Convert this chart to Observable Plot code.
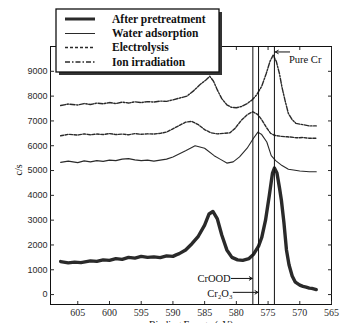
<!DOCTYPE html>
<html>
<head>
<meta charset="utf-8">
<script src="https://cdn.jsdelivr.net/npm/d3@7"></script>
<script src="https://cdn.jsdelivr.net/npm/@observablehq/plot@0.6"></script>
<style>
  html, body { margin: 0; padding: 0; background: #fff; }
  #chart { width: 346px; height: 323px; overflow: hidden; }
</style>
</head>
<body>
<div id="chart"></div>
<script>
// ---- data ----
const seriesNames = ["After pretreatment", "Water adsorption", "Electrolysis", "Ion irradiation"];

const pretreatE = [607.7,606.5,605.5,604.5,603,602,601,600,599,598,597,596,595,594,593,592,591,590,589.5,589,588,587,586,585,584.3,583.7,583,582.3,581.5,580.7,579.8,579,578,577.3,576.5,576,575.4,574.8,574.3,574,573.6,573.2,572.9,572.5,572.1,571.7,571.2,570.7,570,569.5,569,568.5,568.1,567.4];
const pretreatV = [1330,1280,1310,1290,1360,1340,1400,1380,1450,1420,1500,1470,1540,1500,1520,1490,1560,1540,1600,1650,1800,2050,2350,2800,3250,3350,3050,2400,1800,1500,1400,1380,1450,1620,1950,2300,3000,4000,4900,5100,4900,4300,3800,2900,1800,1200,750,500,380,330,300,260,250,200];

const waterE = [607.7,606.5,605,604,603,602,601,600,599,598,597,596,595,594,593,592,591,590,588,586.5,585,583.5,582.5,581.5,580.5,579.5,578.3,577.3,576.6,576,575.2,574.5,573.8,572.8,571.8,571,570,569,568.5,567.4];
const waterV = [5330,5380,5320,5390,5350,5400,5370,5420,5400,5460,5480,5430,5400,5420,5380,5420,5460,5550,5800,6000,5900,5600,5450,5300,5350,5550,5900,6300,6550,6450,6150,5600,5400,5200,5050,5020,4980,4960,4950,4950];

const electroE = [607.7,606.5,605,604,603,602,601,600,599,598,597,596,595,594,593,592,591,589.5,588,587,586,585,584,583,582,581,580.2,579.3,578.3,577.4,576.6,576,575.3,574.6,574,573,572,571.5,570.5,569.5,568.5,567.4];
const electroV = [6400,6460,6430,6480,6440,6470,6450,6490,6450,6470,6440,6490,6460,6480,6470,6500,6550,6750,6950,6980,6850,6650,6520,6480,6500,6520,6700,7000,7250,7370,7250,7050,6750,6500,6420,6380,6360,6350,6320,6330,6300,6300];

const ionE = [607.7,606.5,605,604,603,602,601,600,599,598,597,596,595,594,593,592,591,590,588.5,587.8,586.8,585.8,584.8,584.2,583.6,583,582.3,581.5,580.8,580,579.2,578.3,577.5,576.8,576,575.3,574.7,574.2,573.7,573.2,572.8,572.3,571.8,571.2,570.6,569.5,568.5,567.4];
const ionV = [7620,7680,7640,7700,7660,7720,7690,7740,7700,7760,7720,7770,7740,7780,7760,7800,7790,7850,7950,8000,8200,8450,8650,8800,8600,8250,7900,7650,7550,7530,7580,7700,7850,8050,8400,8900,9400,9650,9400,8900,8350,7800,7300,7050,6900,6850,6800,6800];

const refLines = [577.4, 576.5, 574.0];
const refLabels = ["CrOOD", "Cr₂O₃", "Pure Cr"];
const xTicks = [605, 600, 595, 590, 585, 580, 575, 570, 565];
const yTicks = [0, 1000, 2000, 3000, 4000, 5000, 6000, 7000, 8000, 9000];
const xLabel = "Binding Energy (eV)";
const yLabel = "c/s";

// ---- build tables ----
const mk = (E, V) => E.map((e, i) => ({e, v: V[i]}));
const pretreat = mk(pretreatE, pretreatV);
const water = mk(waterE, waterV);
const electro = mk(electroE, electroV);
const ion = mk(ionE, ionV);

// annotation anchors (data coordinates)
const pureCr = [{label: refLabels[2], x: 571.7, y: 9460, ax1: 571.6, ay: 9780, ax2: 573.85}];
const left = [
  {label: refLabels[0], x: 580.9, y: 650, ax1: 580.8, ay: 650, ax2: 577.5},
  {label: refLabels[1], x: 580.6, y: 40, ax1: 580.5, ay: 90, ax2: 576.6}
];

const serif = "'Liberation Serif', 'Times New Roman', serif";
const sans = "'Liberation Sans', Arial, sans-serif";
const ink = "#2a2a2a";

const plot = Plot.plot({
  width: 346,
  height: 323,
  marginLeft: 50,
  marginRight: 15,
  marginTop: 46,
  marginBottom: 19,
  style: {background: "#fff", color: ink, overflow: "visible"},
  x: {domain: [609.3, 565], ticks: xTicks},
  y: {domain: [-400, 10000], ticks: yTicks},
  marks: [
    Plot.line(pretreat, {x: "e", y: "v", stroke: ink, strokeWidth: 3.4, strokeLinejoin: "round"}),
    Plot.line(water, {x: "e", y: "v", stroke: ink, strokeWidth: 1.1}),
    Plot.line(electro, {x: "e", y: "v", stroke: ink, strokeWidth: 1.4, strokeDasharray: "3,1.5"}),
    Plot.line(ion, {x: "e", y: "v", stroke: ink, strokeWidth: 1.4, strokeDasharray: "5,1.5,1.5,1.5"}),
    Plot.ruleX(refLines, {stroke: "#111", strokeWidth: 1}),
    Plot.frame({stroke: "#111", strokeWidth: 1}),
    Plot.axisY({ticks: yTicks, tickSize: -4, tickPadding: 7, tickFormat: d3.format("d"), label: null, fontFamily: sans, fontSize: 9}),
    Plot.axisY({anchor: "right", ticks: yTicks, tickSize: -4, tickFormat: () => "", label: null}),
    Plot.axisX({ticks: xTicks, tickSize: -3, tickPadding: 7, label: null, fontFamily: serif, fontSize: 10}),
    Plot.axisX({anchor: "top", ticks: xTicks, tickSize: -3, tickFormat: () => "", label: null}),
    Plot.arrow(pureCr, {x1: "ax1", y1: "ay", x2: "ax2", y2: "ay", stroke: "#111", strokeWidth: 1, headLength: 5}),
    Plot.arrow(left, {x1: "ax1", y1: "ay", x2: "ax2", y2: "ay", stroke: "#111", strokeWidth: 1, headLength: 5}),
    Plot.text(pureCr, {x: "x", y: "y", text: "label", textAnchor: "start", fontFamily: serif, fontSize: 10.5, fill: "#111"}),
    Plot.text(left, {x: "x", y: "y", text: "label", textAnchor: "end", fontFamily: serif, fontSize: 10.5, fill: "#111"}),
    Plot.text([yLabel], {frameAnchor: "left", dx: -32, rotate: -90, fontFamily: serif, fontSize: 10, fill: "#111"}),
    Plot.text([xLabel], {frameAnchor: "bottom", dy: 16, lineAnchor: "top", fontFamily: serif, fontSize: 10, fill: "#111"})
  ]
});

// ---- legend box (drawn into the same SVG, top-left, overlapping the frame) ----
const svg = d3.select(plot);
const lg = svg.append("g").attr("class", "legend").attr("text-anchor", "start");
const bx = 56, by = 9, bw = 163, bh = 63;
lg.append("rect").attr("x", bx + 3).attr("y", by + 3).attr("width", bw).attr("height", bh).attr("fill", "#333");
lg.append("rect").attr("x", bx).attr("y", by).attr("width", bw).attr("height", bh).attr("fill", "#fff").attr("stroke", "#111").attr("stroke-width", 1.3);
const styles = [
  {w: 3, d: null},
  {w: 1, d: null},
  {w: 1.4, d: "3,2"},
  {w: 1.4, d: "5,2,1.5,2"}
];
const rowsY = [19, 33.5, 47.5, 62];
seriesNames.forEach((name, i) => {
  const l = lg.append("line").attr("x1", 65).attr("x2", 95).attr("y1", rowsY[i]).attr("y2", rowsY[i])
    .attr("stroke", ink).attr("stroke-width", styles[i].w);
  if (styles[i].d) l.attr("stroke-dasharray", styles[i].d);
  lg.append("text").attr("x", 112).attr("y", rowsY[i] + 3.8).text(name)
    .attr("text-anchor", "start")
    .attr("font-family", serif).attr("font-size", 11.5).attr("font-weight", 600).attr("fill", "#111");
});

document.getElementById("chart").appendChild(plot);
</script>
</body>
</html>
